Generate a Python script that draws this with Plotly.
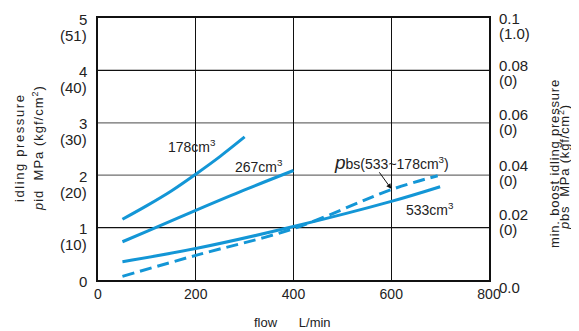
import plotly.graph_objects as go

# ---- data ----
flow_178 = [50, 100, 150, 200, 250, 300]
pid_178 = [1.16, 1.42, 1.70, 2.02, 2.36, 2.73]

flow_267 = [50, 100, 200, 300, 400]
pid_267 = [0.73, 0.93, 1.33, 1.72, 2.09]

flow_533 = [50, 200, 400, 600, 700]
pid_533 = [0.35, 0.60, 1.02, 1.50, 1.78]

flow_pbs = [50, 200, 400, 600, 695]
pbs_vals = [0.0014, 0.0094, 0.0196, 0.0345, 0.0398]

left_ticks = [0, 1, 2, 3, 4, 5]
left_main = ["0", "1", "2", "3", "4", "5"]
left_sub = ["", "(10)", "(20)", "(30)", "(40)", "(51)"]
right_ticks = [0, 0.02, 0.04, 0.06, 0.08, 0.1]
right_main = ["0.0", "0.02", "0.04", "0.06", "0.08", "0.1"]
right_sub = ["", "(0)", "(0)", "(0)", "(0)", "(1.0)"]
x_ticks = [0, 200, 400, 600, 800]

# styling / placement tweaks, as drawn in the original
right_label_shift = [-7, 13, 10, 8, 5, 0]
hgrid_colors = [None, "#111", "#6e6e6e", "#6e6e6e", "#111", None]

BLUE = "#1396d6"
FONT = "Liberation Sans, Arial, Helvetica, sans-serif"
TXT = "#222"

# plot area in page pixels (page has an 8px body margin)
PL, PT, PR, PB = 98, 16, 489, 280

fig = go.Figure()
line = dict(color=BLUE, width=3, shape="spline")
fig.add_trace(go.Scatter(x=flow_178, y=pid_178, mode="lines", line=line, yaxis="y"))
fig.add_trace(go.Scatter(x=flow_267, y=pid_267, mode="lines", line=line, yaxis="y"))
fig.add_trace(go.Scatter(x=flow_533, y=pid_533, mode="lines", line=line, yaxis="y"))
fig.add_trace(go.Scatter(x=flow_pbs, y=pbs_vals, mode="lines",
                         line=dict(color=BLUE, width=3, dash="12px,6px", shape="spline"), yaxis="y2"))

shapes = []
for v, c in zip(left_ticks, hgrid_colors):
    if c:
        shapes.append(dict(type="line", xref="paper", x0=0, x1=1, yref="y", y0=v, y1=v,
                           line=dict(color=c, width=1.2), layer="below"))

tf = dict(size=15, family=FONT, color=TXT)
ann = []
for v, a, b in zip(left_ticks, left_main, left_sub):
    ann.append(dict(x=0, xref="paper", y=v, yref="y", text=a, showarrow=False,
                    xanchor="right", xshift=-9, yanchor="middle", yshift=-1, font=tf))
    if b:
        ann.append(dict(x=0, xref="paper", y=v, yref="y", text=b, showarrow=False,
                        xanchor="right", xshift=-9, yanchor="middle", yshift=-17, font=tf))
for v, a, b, s in zip(right_ticks, right_main, right_sub, right_label_shift):
    ann.append(dict(x=1, xref="paper", y=v, yref="y2", text=a, showarrow=False,
                    xanchor="left", xshift=8, yanchor="middle", yshift=s, font=tf))
    if b:
        ann.append(dict(x=1, xref="paper", y=v, yref="y2", text=b, showarrow=False,
                        xanchor="left", xshift=8, yanchor="middle", yshift=s - 15, font=tf))

def vtitle(xpx, ypx, text, ls):
    return dict(x=0, xref="paper", y=1, yref="paper", xanchor="center", yanchor="middle",
                xshift=xpx - PL, yshift=-(ypx - PT),
                text="<span style='letter-spacing:%spx'>%s</span>" % (ls, text), textangle=-90,
                showarrow=False, font=dict(size=13, family=FONT, color=TXT))

ann.append(vtitle(19, 146, "idling pressure", 1.6))
ann.append(vtitle(38, 146, "<i>p</i>id  MPa (kgf/cm<sup>2</sup>)", 1.0))
ann.append(vtitle(554, 162, "min. boost idling pressure", 0.8))
ann.append(vtitle(564, 165, "<i>p</i>bs  MPa (kgf/cm<sup>2</sup>)", 0.8))
ann.append(dict(x=0, xref="paper", y=0, yref="paper", xanchor="left", yanchor="middle",
                xshift=252 - PL, yshift=-(322 - PB),
                text="flow      L/min", showarrow=False,
                font=dict(size=13, family=FONT, color=TXT)))

# curve labels
lab = dict(showarrow=False, font=dict(size=14, family=FONT, color=TXT), xanchor="left", yanchor="middle")
ann.append(dict(lab, x=140, y=2.56, text="178cm<sup>3</sup>"))
ann.append(dict(lab, x=276, y=2.18, text="267cm<sup>3</sup>"))
ann.append(dict(lab, x=627, y=1.36, text="533cm<sup>3</sup>"))
ann.append(dict(lab, x=478, y=2.24, text="<span style='font-size:19px'><i>p</i></span>bs(533~178cm<sup>3</sup>)"))
ann.append(dict(x=600, y=1.74, ax=-13, ay=-18, axref="pixel", ayref="pixel", text="", showarrow=True,
                arrowhead=2, arrowsize=1, arrowwidth=1, arrowcolor="#111"))

fig.update_layout(
    width=571, height=323,
    margin=dict(l=PL - 8, r=579 - PR, t=PT - 8, b=331 - PB),
    paper_bgcolor="white", plot_bgcolor="white",
    showlegend=False,
    font=dict(family=FONT, size=14, color=TXT),
    xaxis=dict(range=[0, 800], tickvals=x_ticks, showgrid=True, gridcolor="#111", gridwidth=1,
               showline=True, linecolor="#111", linewidth=2, mirror=True, zeroline=False,
               ticks="", tickfont=dict(size=14), fixedrange=True),
    yaxis=dict(range=[0, 5], tickvals=left_ticks, showticklabels=False, showgrid=False,
               showline=True, linecolor="#111", linewidth=2,
               mirror=True, zeroline=False, ticks=""),
    yaxis2=dict(range=[0, 0.1], overlaying="y", side="right", showticklabels=False,
                showgrid=False, zeroline=False, showline=False),
    shapes=shapes,
    annotations=ann,
)

fig.write_html("out.html")
